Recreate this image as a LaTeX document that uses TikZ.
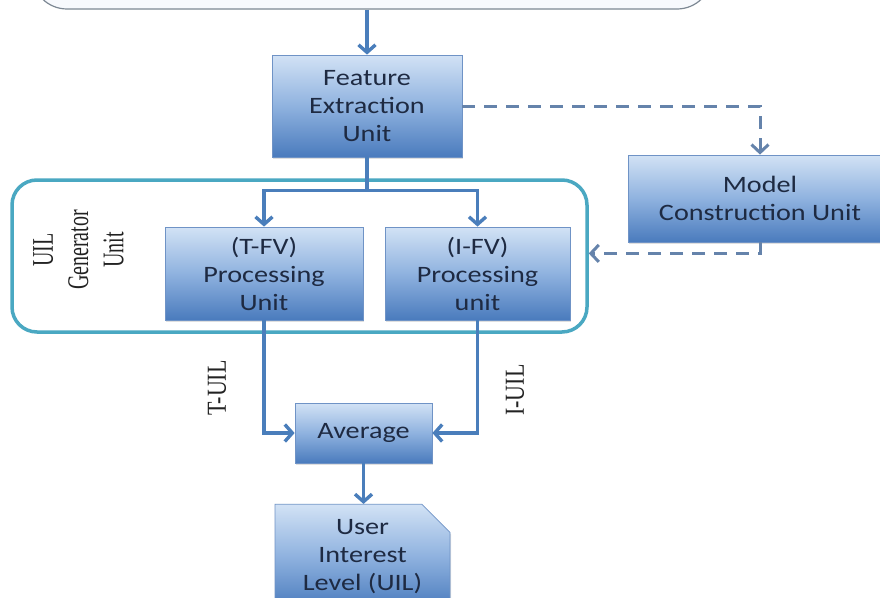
\documentclass[tikz,border=0pt]{standalone}
\usepackage{fontspec}
\setmainfont{Liberation Serif}
\newfontfamily\boxfont[FakeStretch=1.2]{Carlito}
\usetikzlibrary{arrows.meta,shapes.misc,shadows}

\definecolor{connblue}{HTML}{4A7EBB}
\definecolor{dashblue}{HTML}{6583AB}
\definecolor{genteal}{HTML}{4AA8C2}
\definecolor{boxtop}{HTML}{D2E2F5}
\definecolor{boxmid}{HTML}{8FB2DF}
\definecolor{boxbot}{HTML}{4A7BBD}
\definecolor{boxedge}{HTML}{6F93C6}
\definecolor{boxtext}{HTML}{1E2A42}
\definecolor{topedge}{HTML}{7D8894}
\definecolor{topfill}{HTML}{F7F9FD}
\definecolor{labtext}{HTML}{222222}

\begin{document}
\begin{tikzpicture}[x=1pt,y=-1pt,
  unitbox/.style={rectangle, top color=boxtop, bottom color=boxbot, middle color=boxmid,
    draw=boxedge, line width=0.8pt, inner sep=0pt, align=center, text=boxtext,
    font=\boxfont\fontsize{23.5}{28}\selectfont,
    drop shadow={shadow xshift=1pt, shadow yshift=-2pt, opacity=0.25}},
  arr/.style={draw=connblue, line width=3.4pt,
    -{Straight Barb[length=7.5pt,width=17pt]}},
  plainconn/.style={draw=connblue, line width=3.4pt},
  dasharr/.style={draw=dashblue, line width=3pt, dash pattern=on 13pt off 9pt,
    -{Straight Barb[length=8pt,width=17pt]}},
  lab/.style={text=labtext, inner sep=0pt, align=center}]

\useasboundingbox (0,0) rectangle (880,597);
\clip (0,0) rectangle (880,597);
\fill[white] (0,0) rectangle (880,597);

% input block at the top (only its lower edge is in view)
\node[draw=topedge, fill=topfill, line width=1.2pt, rounded corners=35pt,
  minimum width=680pt, minimum height=120pt] (input) at (372,-51) {};

% UIL generator frame
\node[draw=genteal, line width=3.5pt, rounded corners=25pt,
  minimum width=575pt, minimum height=152pt] (gen) at (299.5,256) {};
\node[lab, rotate=90, font=\fontsize{20}{23.5}\selectfont] (genlab) at (81,250)
  {\scalebox{1}[1.5]{\begin{tabular}{@{}c@{}}UIL\\Generator\\Unit\end{tabular}}};

% processing units
\node[unitbox, minimum width=190pt, minimum height=102pt] (feature) at (367,106)
  {Feature\\Extraction\\Unit};
\node[unitbox, minimum width=264pt, minimum height=87pt] (model) at (760,198.5)
  {Model\\Construction Unit};
\node[unitbox, minimum width=198pt, minimum height=93pt] (tfv) at (264,273.5)
  {(T-FV)\\Processing\\Unit};
\node[unitbox, minimum width=185pt, minimum height=93pt] (ifv) at (477.5,273.5)
  {(I-FV)\\Processing\\unit};
\node[unitbox, minimum width=137pt, minimum height=60pt] (avg) at (363.5,433)
  {Average};
\node[unitbox, chamfered rectangle, chamfered rectangle corners=north east,
  chamfered rectangle xsep=13pt, chamfered rectangle ysep=15pt,
  minimum width=175pt, minimum height=99pt] (uil) at (362.5,556.5)
  {User\\Interest\\Level (UIL)};

% solid connectors
\draw[arr] (feature.north |- input.south) -- (feature.north);
\draw[plainconn] (feature.south) -- ++(0,33) coordinate (split);
\draw[arr] (split) -| (tfv.north);
\draw[arr] (split) -| (ifv.north);
\draw[arr] (tfv.south) |- (avg.west);
\draw[arr] (ifv.south) |- (avg.east);
\draw[arr] (avg.south) -- (avg.south |- uil.north);

% dashed model connectors
\draw[dasharr] (feature.east) -| (model.north);
\draw[dasharr] (model.south) -- ++(0,11) coordinate (mb) -- (mb -| gen.east);

% branch labels
\node[lab, rotate=90, font=\fontsize{22}{26}\selectfont] (tuil) at (217,388)
  {\scalebox{1}[1.25]{T-UIL}};
\node[lab, rotate=90, font=\fontsize{22}{26}\selectfont] (iuil) at (515,390)
  {\scalebox{1}[1.25]{I-UIL}};
\end{tikzpicture}
\end{document}
